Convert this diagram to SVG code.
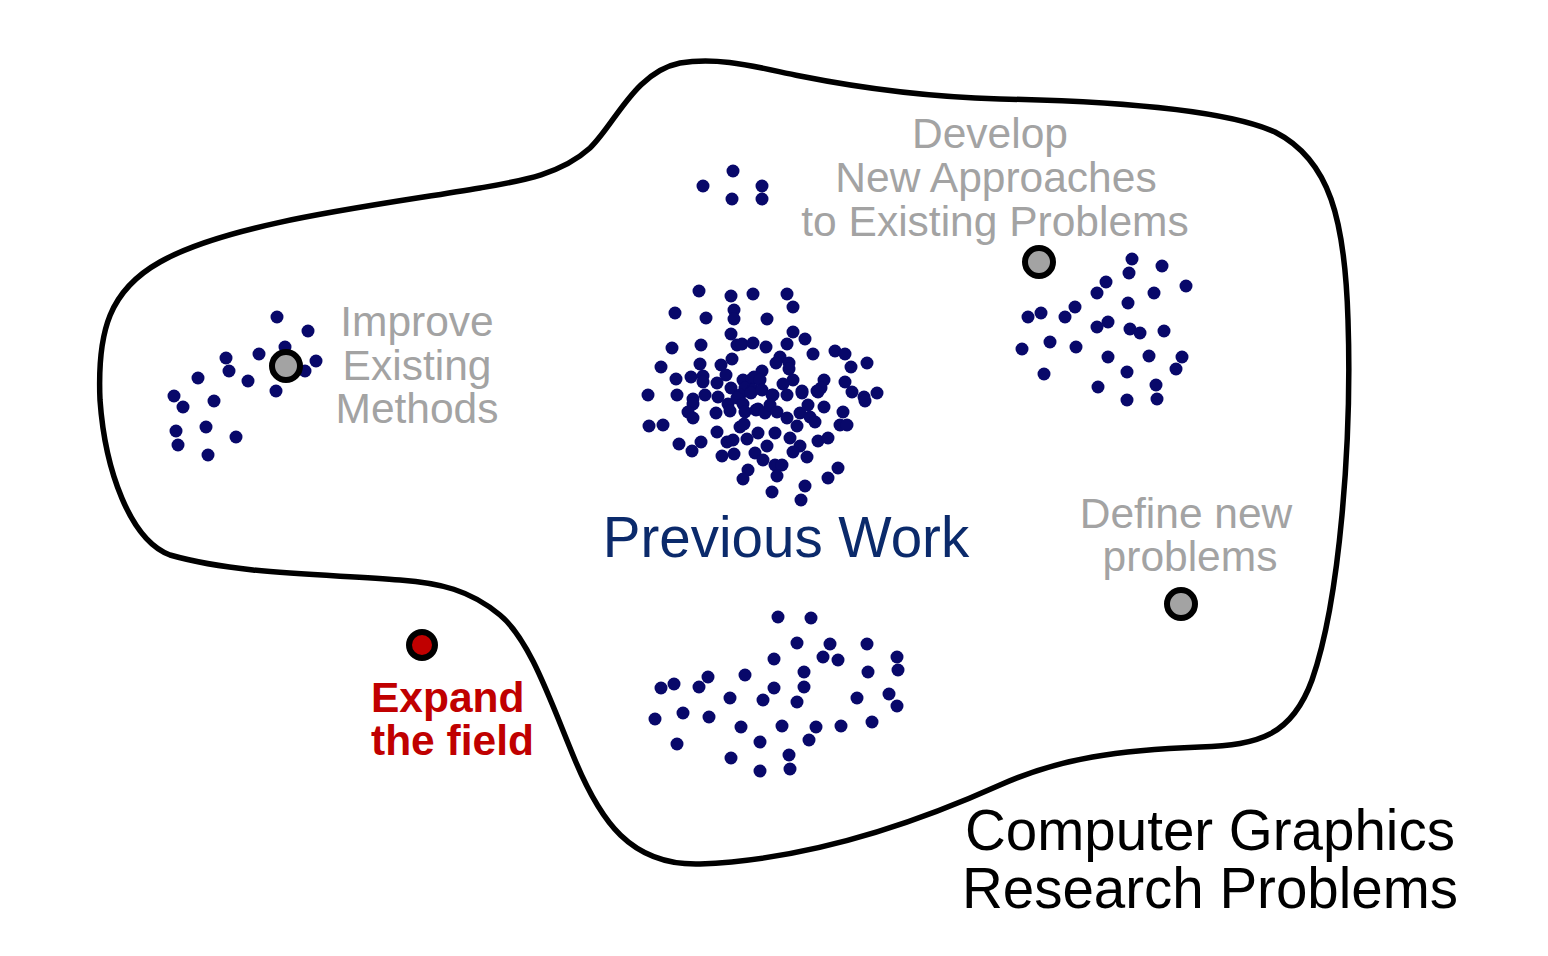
<svg xmlns="http://www.w3.org/2000/svg" width="1548" height="956" viewBox="0 0 1548 956">
<style>
.bg{fill:#ffffff}
.outline{fill:none;stroke:#000;stroke-width:5.5;stroke-linejoin:round}
.d circle{fill:#08086a}
.hole{fill:#a3a3a3;stroke:#000;stroke-width:6}
.red{fill:#c00000;stroke:#000;stroke-width:6}
.g{font-family:"Liberation Sans",Arial,sans-serif;font-size:42.5px;fill:#a3a3a3;text-anchor:middle}
.pw{font-family:"Liberation Sans",Arial,sans-serif;font-size:56.5px;fill:#0b2a6b;text-anchor:middle}
.ex{font-family:"Liberation Sans",Arial,sans-serif;font-size:42.5px;font-weight:bold;fill:#c00000}
.cg{font-family:"Liberation Sans",Arial,sans-serif;font-size:56.5px;fill:#000;text-anchor:middle}
</style>
<rect class="bg" x="0" y="0" width="1548" height="956"/>
<g id="region">
<path class="outline" d="M 480,188 C 520,181 560,175 590,148 C 615,124 635,72 680,63 C 720,56 760,68 800,76 C 860,88 930,97 1000,99 C 1100,101 1220,108 1275,132 C 1330,160 1345,220 1348,320 C 1352,440 1340,600 1312,680 C 1292,735 1260,745 1200,747 C 1120,750 1060,758 1000,785 C 900,830 800,860 700,864 C 630,866 600,820 575,760 C 550,700 530,640 500,615 C 470,590 440,583 400,580 C 330,574 240,575 170,555 C 130,540 105,470 100,400 C 97,330 110,290 160,262 C 230,222 380,205 480,188 Z"/>
</g>
<g id="cluster-left" class="d">
<circle cx="277" cy="317" r="6.5"/><circle cx="308" cy="331" r="6.5"/><circle cx="285" cy="347" r="6.5"/><circle cx="259" cy="354" r="6.5"/><circle cx="226" cy="358" r="6.5"/><circle cx="229" cy="371" r="6.5"/><circle cx="316" cy="361" r="6.5"/><circle cx="305" cy="371" r="6.5"/><circle cx="248" cy="381" r="6.5"/><circle cx="276" cy="391" r="6.5"/><circle cx="198" cy="378" r="6.5"/><circle cx="174" cy="396" r="6.5"/><circle cx="183" cy="407" r="6.5"/><circle cx="214" cy="401" r="6.5"/><circle cx="176" cy="431" r="6.5"/><circle cx="206" cy="427" r="6.5"/><circle cx="236" cy="437" r="6.5"/><circle cx="178" cy="445" r="6.5"/><circle cx="208" cy="455" r="6.5"/>
</g>
<g id="cluster-top" class="d">
<circle cx="703" cy="186" r="6.5"/><circle cx="733" cy="171" r="6.5"/><circle cx="762" cy="186" r="6.5"/><circle cx="732" cy="199" r="6.5"/><circle cx="762" cy="199" r="6.5"/>
</g>
<g id="cluster-right" class="d">
<circle cx="1132" cy="259" r="6.5"/><circle cx="1162" cy="266" r="6.5"/><circle cx="1129" cy="273" r="6.5"/><circle cx="1186" cy="286" r="6.5"/><circle cx="1106" cy="282" r="6.5"/><circle cx="1097" cy="293" r="6.5"/><circle cx="1154" cy="293" r="6.5"/><circle cx="1128" cy="303" r="6.5"/><circle cx="1075" cy="307" r="6.5"/><circle cx="1028" cy="317" r="6.5"/><circle cx="1041" cy="313" r="6.5"/><circle cx="1065" cy="317" r="6.5"/><circle cx="1108" cy="322" r="6.5"/><circle cx="1097" cy="327" r="6.5"/><circle cx="1130" cy="329" r="6.5"/><circle cx="1140" cy="333" r="6.5"/><circle cx="1164" cy="331" r="6.5"/><circle cx="1022" cy="349" r="6.5"/><circle cx="1050" cy="342" r="6.5"/><circle cx="1076" cy="347" r="6.5"/><circle cx="1108" cy="357" r="6.5"/><circle cx="1149" cy="356" r="6.5"/><circle cx="1182" cy="357" r="6.5"/><circle cx="1176" cy="369" r="6.5"/><circle cx="1044" cy="374" r="6.5"/><circle cx="1127" cy="372" r="6.5"/><circle cx="1156" cy="385" r="6.5"/><circle cx="1098" cy="387" r="6.5"/><circle cx="1127" cy="400" r="6.5"/><circle cx="1157" cy="399" r="6.5"/>
</g>
<g id="cluster-bottom" class="d">
<circle cx="778" cy="617" r="6.5"/><circle cx="811" cy="618" r="6.5"/><circle cx="797" cy="643" r="6.5"/><circle cx="830" cy="644" r="6.5"/><circle cx="867" cy="644" r="6.5"/><circle cx="774" cy="659" r="6.5"/><circle cx="823" cy="657" r="6.5"/><circle cx="838" cy="660" r="6.5"/><circle cx="897" cy="657" r="6.5"/><circle cx="745" cy="675" r="6.5"/><circle cx="708" cy="677" r="6.5"/><circle cx="804" cy="672" r="6.5"/><circle cx="868" cy="672" r="6.5"/><circle cx="898" cy="670" r="6.5"/><circle cx="661" cy="688" r="6.5"/><circle cx="674" cy="684" r="6.5"/><circle cx="699" cy="687" r="6.5"/><circle cx="774" cy="688" r="6.5"/><circle cx="804" cy="687" r="6.5"/><circle cx="730" cy="698" r="6.5"/><circle cx="763" cy="700" r="6.5"/><circle cx="797" cy="702" r="6.5"/><circle cx="857" cy="698" r="6.5"/><circle cx="889" cy="694" r="6.5"/><circle cx="897" cy="706" r="6.5"/><circle cx="655" cy="719" r="6.5"/><circle cx="683" cy="713" r="6.5"/><circle cx="709" cy="717" r="6.5"/><circle cx="741" cy="727" r="6.5"/><circle cx="782" cy="726" r="6.5"/><circle cx="816" cy="727" r="6.5"/><circle cx="841" cy="726" r="6.5"/><circle cx="872" cy="722" r="6.5"/><circle cx="677" cy="744" r="6.5"/><circle cx="760" cy="742" r="6.5"/><circle cx="809" cy="740" r="6.5"/><circle cx="731" cy="758" r="6.5"/><circle cx="789" cy="755" r="6.5"/><circle cx="760" cy="771" r="6.5"/><circle cx="790" cy="769" r="6.5"/>
</g>
<g id="cluster-center" class="d">
<circle cx="699" cy="291" r="6.5"/><circle cx="731" cy="296" r="6.5"/><circle cx="753" cy="294" r="6.5"/><circle cx="787" cy="294" r="6.5"/><circle cx="675" cy="313" r="6.5"/><circle cx="706" cy="318" r="6.5"/><circle cx="734" cy="310" r="6.5"/><circle cx="734" cy="319" r="6.5"/><circle cx="793" cy="307" r="6.5"/><circle cx="767" cy="319" r="6.5"/><circle cx="731" cy="334" r="6.5"/><circle cx="793" cy="332" r="6.5"/><circle cx="805" cy="339" r="6.5"/><circle cx="672" cy="348" r="6.5"/><circle cx="701" cy="345" r="6.5"/><circle cx="737" cy="345" r="6.5"/><circle cx="742" cy="344" r="6.5"/><circle cx="753" cy="343" r="6.5"/><circle cx="766" cy="347" r="6.5"/><circle cx="787" cy="344" r="6.5"/><circle cx="813" cy="354" r="6.5"/><circle cx="835" cy="351" r="6.5"/><circle cx="845" cy="354" r="6.5"/><circle cx="867" cy="363" r="6.5"/><circle cx="851" cy="367" r="6.5"/><circle cx="661" cy="367" r="6.5"/><circle cx="700" cy="364" r="6.5"/><circle cx="721" cy="365" r="6.5"/><circle cx="732" cy="359" r="6.5"/><circle cx="780" cy="357" r="6.5"/><circle cx="776" cy="363" r="6.5"/><circle cx="789" cy="363" r="6.5"/><circle cx="789" cy="369" r="6.5"/><circle cx="762" cy="371" r="6.5"/><circle cx="676" cy="379" r="6.5"/><circle cx="691" cy="377" r="6.5"/><circle cx="703" cy="376" r="6.5"/><circle cx="726" cy="375" r="6.5"/><circle cx="703" cy="382" r="6.5"/><circle cx="717" cy="383" r="6.5"/><circle cx="731" cy="388" r="6.5"/><circle cx="743" cy="380" r="6.5"/><circle cx="752" cy="379" r="6.5"/><circle cx="745" cy="388" r="6.5"/><circle cx="754" cy="377" r="6.5"/><circle cx="760" cy="380" r="6.5"/><circle cx="793" cy="380" r="6.5"/><circle cx="783" cy="384" r="6.5"/><circle cx="824" cy="380" r="6.5"/><circle cx="845" cy="382" r="6.5"/><circle cx="648" cy="395" r="6.5"/><circle cx="677" cy="395" r="6.5"/><circle cx="705" cy="395" r="6.5"/><circle cx="718" cy="397" r="6.5"/><circle cx="693" cy="399" r="6.5"/><circle cx="740" cy="395" r="6.5"/><circle cx="753" cy="390" r="6.5"/><circle cx="802" cy="391" r="6.5"/><circle cx="817" cy="391" r="6.5"/><circle cx="821" cy="388" r="6.5"/><circle cx="852" cy="392" r="6.5"/><circle cx="864" cy="397" r="6.5"/><circle cx="877" cy="393" r="6.5"/><circle cx="772" cy="395" r="6.5"/><circle cx="787" cy="395" r="6.5"/><circle cx="693" cy="404" r="6.5"/><circle cx="688" cy="412" r="6.5"/><circle cx="693" cy="418" r="6.5"/><circle cx="728" cy="404" r="6.5"/><circle cx="730" cy="411" r="6.5"/><circle cx="716" cy="413" r="6.5"/><circle cx="737" cy="398" r="6.5"/><circle cx="743" cy="404" r="6.5"/><circle cx="745" cy="412" r="6.5"/><circle cx="740" cy="427" r="6.5"/><circle cx="744" cy="424" r="6.5"/><circle cx="756" cy="410" r="6.5"/><circle cx="751" cy="393" r="6.5"/><circle cx="649" cy="426" r="6.5"/><circle cx="663" cy="425" r="6.5"/><circle cx="717" cy="432" r="6.5"/><circle cx="701" cy="442" r="6.5"/><circle cx="679" cy="444" r="6.5"/><circle cx="692" cy="451" r="6.5"/><circle cx="727" cy="442" r="6.5"/><circle cx="733" cy="440" r="6.5"/><circle cx="747" cy="439" r="6.5"/><circle cx="722" cy="456" r="6.5"/><circle cx="734" cy="454" r="6.5"/><circle cx="755" cy="453" r="6.5"/><circle cx="748" cy="470" r="6.5"/><circle cx="743" cy="479" r="6.5"/><circle cx="762" cy="390" r="6.5"/><circle cx="773" cy="395" r="6.5"/><circle cx="802" cy="393" r="6.5"/><circle cx="818" cy="392" r="6.5"/><circle cx="865" cy="401" r="6.5"/><circle cx="758" cy="409" r="6.5"/><circle cx="765" cy="413" r="6.5"/><circle cx="770" cy="405" r="6.5"/><circle cx="777" cy="412" r="6.5"/><circle cx="787" cy="418" r="6.5"/><circle cx="800" cy="413" r="6.5"/><circle cx="808" cy="405" r="6.5"/><circle cx="810" cy="417" r="6.5"/><circle cx="815" cy="422" r="6.5"/><circle cx="824" cy="407" r="6.5"/><circle cx="797" cy="426" r="6.5"/><circle cx="843" cy="412" r="6.5"/><circle cx="840" cy="425" r="6.5"/><circle cx="847" cy="425" r="6.5"/><circle cx="758" cy="433" r="6.5"/><circle cx="775" cy="433" r="6.5"/><circle cx="790" cy="438" r="6.5"/><circle cx="767" cy="446" r="6.5"/><circle cx="800" cy="446" r="6.5"/><circle cx="793" cy="452" r="6.5"/><circle cx="807" cy="457" r="6.5"/><circle cx="818" cy="441" r="6.5"/><circle cx="828" cy="438" r="6.5"/><circle cx="763" cy="460" r="6.5"/><circle cx="775" cy="465" r="6.5"/><circle cx="782" cy="465" r="6.5"/><circle cx="777" cy="476" r="6.5"/><circle cx="838" cy="468" r="6.5"/><circle cx="828" cy="478" r="6.5"/><circle cx="772" cy="492" r="6.5"/><circle cx="805" cy="486" r="6.5"/><circle cx="801" cy="500" r="6.5"/>
</g>
<g id="node-improve">
<circle class="hole" cx="286" cy="366" r="14"/>
<text class="g" x="417" y="336">Improve</text>
<text class="g" x="417" y="380">Existing</text>
<text class="g" x="417" y="423">Methods</text>
</g>
<g id="node-develop">
<circle class="hole" cx="1039" cy="262" r="14"/>
<text class="g" x="990" y="148">Develop</text>
<text class="g" x="996" y="192">New Approaches</text>
<text class="g" x="995" y="236">to Existing Problems</text>
</g>
<g id="node-define">
<circle class="hole" cx="1181" cy="604" r="14"/>
<text class="g" x="1186" y="528">Define new</text>
<text class="g" x="1190" y="571">problems</text>
</g>
<g id="node-expand">
<circle class="red" cx="422" cy="645" r="13"/>
<text class="ex" x="371" y="712">Expand</text>
<text class="ex" x="371" y="755">the field</text>
</g>
<g id="label-previous">
<text class="pw" x="786" y="557">Previous Work</text>
</g>
<g id="label-cg">
<text class="cg" x="1210" y="850">Computer Graphics</text>
<text class="cg" x="1210" y="908">Research Problems</text>
</g>
</svg>
